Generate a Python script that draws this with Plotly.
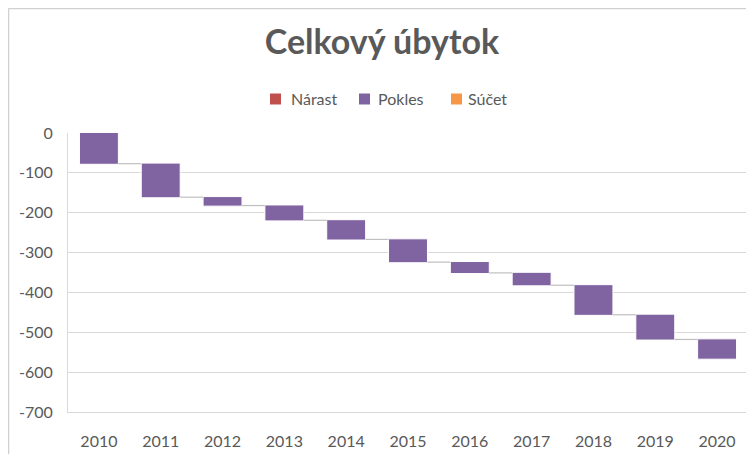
import plotly.graph_objects as go

years = ["2010", "2011", "2012", "2013", "2014", "2015", "2016", "2017", "2018", "2019", "2020"]
changes = [-77, -84, -21, -37, -48, -57, -27, -31, -74, -62, -48]
y_ticks = [0, -100, -200, -300, -400, -500, -600, -700]
legend_names = ["Nárast", "Pokles", "Súčet"]
legend_colors = ["#C0504D", "#8064A2", "#F79646"]

W, H = 754, 454
ml, mr, mt, mb = 60, 14, 125, 50
pw, ph = W - ml - mr, H - mt - mb

def px(x):
    return (x - ml) / pw

def py(y):
    return (H - mb - y) / ph

fig = go.Figure()
fig.add_trace(go.Waterfall(
    x=years, y=changes, measure=["relative"] * len(years),
    decreasing=dict(marker=dict(color="#8064A2", line=dict(color="#FFFFFF", width=1))),
    increasing=dict(marker=dict(color="#C0504D", line=dict(color="#FFFFFF", width=1))),
    totals=dict(marker=dict(color="#F79646", line=dict(color="#FFFFFF", width=1))),
    connector=dict(mode="between", line=dict(color="#BFBFBF", width=1.2)),
    showlegend=False, hoverinfo="x+y",
))

shapes = [
    dict(type="line", xref="paper", yref="paper", x0=px(0.5), x1=px(W + 2), y0=py(0.5), y1=py(0.5),
         line=dict(color="#D0D0D0", width=1.5)),
    dict(type="line", xref="paper", yref="paper", x0=px(0.5), x1=px(0.5), y0=py(0.5), y1=py(H + 2),
         line=dict(color="#D0D0D0", width=1.5)),
]
annotations = []
sq_left = [262, 351, 443]
txt_left = [281, 368, 458]
ly = 91
for name, col, sx, tx in zip(legend_names, legend_colors, sq_left, txt_left):
    shapes.append(dict(type="rect", xref="paper", yref="paper", x0=px(sx), x1=px(sx + 11),
                       y0=py(ly + 5.5), y1=py(ly - 5.5), fillcolor=col, line=dict(width=0)))
    annotations.append(dict(text=name, xref="paper", yref="paper", x=px(tx), y=py(ly),
                            xanchor="left", yanchor="middle", showarrow=False,
                            font=dict(size=16, color="#595959")))

fig.update_layout(
    width=W, height=H,
    margin=dict(l=ml, r=mr, t=mt, b=mb),
    paper_bgcolor="white", plot_bgcolor="white",
    font=dict(family="Lato, Liberation Sans, sans-serif", color="#595959", size=16),
    title=dict(text="<b>Celkový úbytok</b>", x=374 / W, xanchor="center", y=1 - 34 / H, yanchor="middle",
               font=dict(size=34, color="#595959")),
    showlegend=False,
    waterfallgap=0.37,
    xaxis=dict(type="category", showgrid=False, showline=True, linecolor="#D9D9D9", linewidth=1,
               ticks="", tickfont=dict(size=16), ticklabelstandoff=15, fixedrange=True),
    yaxis=dict(range=[-700, 0], tickvals=y_ticks, ticktext=[str(v) for v in y_ticks],
               showgrid=True, gridcolor="#D9D9D9", gridwidth=1, zeroline=False,
               showline=True, linecolor="#D9D9D9", linewidth=1, ticks="",
               tickfont=dict(size=16), ticklabelstandoff=11, fixedrange=True),
    shapes=shapes,
    annotations=annotations,
)

fig.write_html("out.html")
